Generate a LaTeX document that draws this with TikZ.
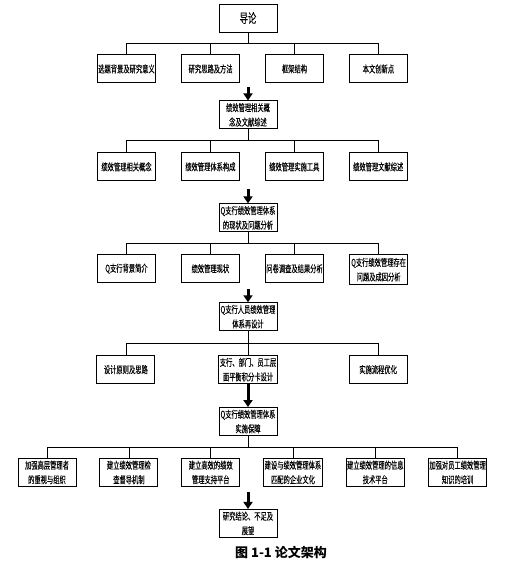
\documentclass[tikz,border=0pt]{standalone}
\usepackage{fontspec}
\newfontfamily\cjk[FakeStretch=0.64, FakeBold=0.12]{Noto Sans CJK SC}
\newfontfamily\capfont{Noto Sans CJK SC}
\usetikzlibrary{positioning, arrows.meta}

\begin{document}
\begin{tikzpicture}[
        node distance=22pt and 25pt,
        box/.style={draw, rectangle, line width=0.9pt, minimum width=58pt, minimum height=28pt, inner sep=1pt, align=center, font=\cjk\fontsize{9.8}{14.5}\selectfont},
        mainbox/.style={box},
        subbox/.style={box},
        link/.style={line width=0.7pt},
        bigarrow/.style={line width=3pt, -{Triangle[width=9pt,length=7pt]}}
    ]
    \useasboundingbox (0,0) rectangle (519pt,-570pt);

    % main column
    \node[mainbox, font=\cjk\fontsize{13}{14}\selectfont] (intro) at (248pt,-18pt) {导论};
    \node[mainbox, below=68pt of intro] (lit) {绩效管理相关概\\念及文献综述};
    \node[mainbox, below=74pt of lit] (status) {Q支行绩效管理体系\\的现状及问题分析};
    \node[mainbox, below=70pt of status] (design) {Q支行人员绩效管理\\体系再设计};

    % row 1
    \node[subbox, below=of intro, xshift=-121.5pt] (a1) {选题背景及研究意义};
    \node[subbox, right=of a1] (a2) {研究思路及方法};
    \node[subbox, right=of a2] (a3) {框架结构};
    \node[subbox, right=of a3] (a4) {本文创新点};

    % row 2
    \node[subbox, below=23pt of lit, xshift=-121.5pt] (b1) {绩效管理相关概念};
    \node[subbox, right=of b1] (b2) {绩效管理体系构成};
    \node[subbox, right=of b2] (b3) {绩效管理实施工具};
    \node[subbox, right=of b3] (b4) {绩效管理文献综述};

    % row 3
    \node[subbox, below=of status, xshift=-121.5pt] (c1) {Q支行背景简介};
    \node[subbox, right=of c1] (c2) {绩效管理现状};
    \node[subbox, right=of c2] (c3) {问卷调查及结果分析};
    \node[subbox, right=of c3, minimum height=30pt, yshift=-1pt] (c4) {Q支行绩效管理存在\\问题及成因分析};

    % row 4
    \node[subbox, below=24pt of design] (d2) {支行、部门、员工层\\面平衡积分卡设计};
    \node[subbox, left=63pt of d2] (d1) {设计原则及思路};
    \node[subbox, right=71pt of d2] (d3) {实施流程优化};

    \node[mainbox, below=23pt of d2] (guar) {Q支行绩效管理体系\\实施保障};

    % row 5
    \node[subbox, below=of guar, xshift=-201pt] (e1) {加强高层管理者\\的重视与组织};
    \node[subbox, right=23pt of e1] (e2) {建立绩效管理检\\查督导机制};
    \node[subbox, right=23pt of e2] (e3) {建立高效的绩效\\管理支持平台};
    \node[subbox, right=23pt of e3] (e4) {建设与绩效管理体系\\匹配的企业文化};
    \node[subbox, right=23pt of e4] (e5) {建立绩效管理的信息\\技术平台};
    \node[subbox, right=23pt of e5] (e6) {加强对员工绩效管理\\知识的培训};

    \node[mainbox, below=73pt of guar] (concl) {研究结论、不足及\\展望};

    % tree lines
    \coordinate (bus1) at ([yshift=-11pt]intro.south);
    \draw[link] (intro.south) -- (bus1);
    \draw[link] (a1.north |- bus1) -- (a4.north |- bus1);
    \foreach \n in {a1,a2,a3,a4} \draw[link] (\n.north) -- (\n.north |- bus1);

    \coordinate (bus2) at ([yshift=-11pt]lit.south);
    \draw[link] (lit.south) -- (bus2);
    \draw[link] (b1.north |- bus2) -- (b4.north |- bus2);
    \foreach \n in {b1,b2,b3,b4} \draw[link] (\n.north) -- (\n.north |- bus2);

    \coordinate (bus3) at ([yshift=-11pt]status.south);
    \draw[link] (status.south) -- (bus3);
    \draw[link] (c1.north |- bus3) -- (c4.north |- bus3);
    \foreach \n in {c1,c2,c3,c4} \draw[link] (\n.north) -- (\n.north |- bus3);

    \coordinate (bus4) at ([yshift=-12pt]design.south);
    \draw[link] (design.south) -- (d2.north);
    \draw[link] (d1.north |- bus4) -- (d3.north |- bus4);
    \foreach \n in {d1,d3} \draw[link] (\n.north) -- (\n.north |- bus4);

    \coordinate (bus5) at ([yshift=-11pt]guar.south);
    \draw[link] (guar.south) -- (bus5);
    \draw[link] (e1.north |- bus5) -- (e6.north |- bus5);
    \foreach \n in {e1,e2,e3,e4,e5,e6} \draw[link] (\n.north) -- (\n.north |- bus5);

    % block arrows
    \draw[bigarrow] ([yshift=13pt]lit.north) -- (lit.north);
    \draw[bigarrow] ([yshift=14pt]status.north) -- (status.north);
    \draw[bigarrow] ([yshift=13pt]design.north) -- (design.north);
    \draw[bigarrow] (d2.south) -- (guar.north);
    \draw[bigarrow] ([yshift=17pt]concl.north) -- (concl.north);

    \node[font=\capfont\bfseries\fontsize{13}{15}\selectfont] (cap) at (281pt,-552pt) {图 1-1 论文架构};
\end{tikzpicture}
\end{document}
